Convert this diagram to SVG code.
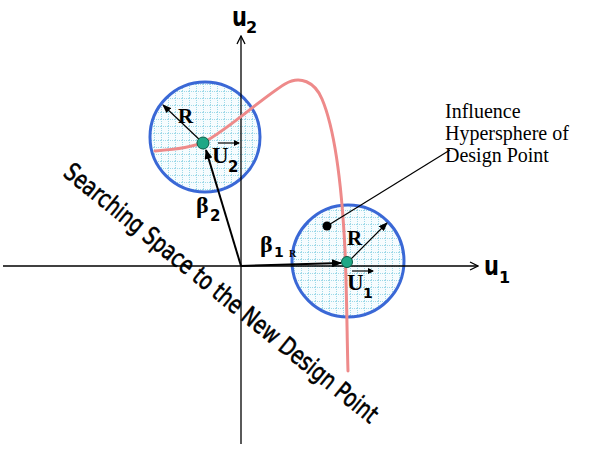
<svg xmlns="http://www.w3.org/2000/svg" width="589" height="453" viewBox="0 0 589 453">
<style>
.axis{stroke:#000;stroke-width:1.3;fill:none}
.vec{stroke:#000;stroke-width:2;fill:none}
.rad{stroke:#000;stroke-width:1.2;fill:none}
.sphere{fill:url(#grid);stroke:#3a68d6;stroke-width:3}
.curve{fill:none;stroke:#ee8a8a;stroke-width:3;stroke-linecap:round}
.dp{fill:#1fa886;stroke:#0b5a45;stroke-width:1}
.ser{font-family:"Liberation Serif","Times New Roman",serif;fill:#000}
.sb{font-family:"Liberation Serif","Times New Roman",serif;font-weight:bold;fill:#000}
.san{font-family:"DejaVu Sans","Liberation Sans",sans-serif;font-weight:bold;fill:#000}
</style>
<defs>
<pattern id="grid" patternUnits="userSpaceOnUse" width="7" height="7">
<rect width="7" height="7" fill="#f6fcfe"/>
<path d="M0,0.5H7M0.5,0V7" stroke="#9dd9e8" stroke-width="1" stroke-dasharray="1,1"/>
</pattern>
<marker id="ah" markerWidth="10" markerHeight="8" refX="9" refY="4" orient="auto" markerUnits="userSpaceOnUse">
<path d="M0,0L10,4L0,8z" fill="#000"/>
</marker>
<marker id="ahs" markerWidth="9" markerHeight="7" refX="8" refY="3.5" orient="auto" markerUnits="userSpaceOnUse">
<path d="M0,0L9,3.5L0,7z" fill="#000"/>
</marker>
<marker id="ax" markerWidth="10" markerHeight="10" refX="9" refY="5" orient="auto" markerUnits="userSpaceOnUse">
<path d="M1,1L9,5L1,9" fill="none" stroke="#000" stroke-width="1.3"/>
</marker>
<marker id="tiny" markerWidth="6" markerHeight="6" refX="5" refY="3" orient="auto" markerUnits="userSpaceOnUse">
<path d="M0,0L6,3L0,6z" fill="#000"/>
</marker>
</defs>

<g id="spheres">
<circle id="sphere2" class="sphere" cx="205" cy="137" r="55"/>
<circle id="sphere1" class="sphere" cx="348" cy="261" r="56"/>
</g>

<g id="axes">
<line class="axis" x1="241" y1="444" x2="241" y2="36" marker-end="url(#ax)"/>
<line class="axis" x1="3" y1="266" x2="478" y2="266" marker-end="url(#ax)"/>
</g>

<path id="limit-state" class="curve" d="M155,151 C180,149 193,147 204,142 C226,131 262,98 285,84 C300,75 315,82 322,99 C336,132 342,190 345,250 C347,300 347,340 348,371"/>

<g id="connectors">
<line class="vec" x1="241" y1="266" x2="206" y2="150" marker-end="url(#ah)"/>
<line class="vec" x1="241" y1="266" x2="341" y2="263" marker-end="url(#ah)"/>
<line class="rad" x1="203" y1="143" x2="163" y2="105" marker-end="url(#ahs)"/>
<line class="rad" x1="348" y1="262" x2="387" y2="223" marker-end="url(#ahs)"/>
<line class="rad" x1="327" y1="226" x2="450" y2="150"/>
</g>

<g id="point2">
<circle class="dp" cx="203" cy="143" r="6"/>
</g>
<g id="point1">
<circle class="dp" cx="347" cy="262" r="5.5"/>
</g>
<g id="center-dot">
<circle cx="327" cy="226" r="4.5" fill="#000"/>
</g>

<g id="labels">
<text class="san" transform="translate(232,26) scale(1,1.3)" font-size="21">u</text>
<text class="san" x="246" y="33" font-size="16">2</text>
<text class="san" transform="translate(484,275) scale(1,1.3)" font-size="21">u</text>
<text class="san" x="499" y="283" font-size="16">1</text>

<text class="sb" x="178" y="123" font-size="21">R</text>
<text class="sb" x="347" y="245" font-size="21">R</text>

<text class="sb" x="212" y="163" font-size="23">U</text>
<text class="san" x="228" y="172" font-size="15">2</text>
<line class="rad" x1="218" y1="143" x2="239" y2="143" marker-end="url(#tiny)"/>
<circle cx="236" cy="143" r="1.5" fill="#000"/>

<text class="sb" x="347" y="290" font-size="23">U</text>
<text class="san" x="363" y="298" font-size="14">1</text>
<line class="rad" x1="352" y1="271" x2="373" y2="271" marker-end="url(#tiny)"/>
<circle cx="370" cy="271" r="1.5" fill="#000"/>

<text class="sb" x="196" y="213" font-size="24">β</text>
<text class="san" x="210" y="221" font-size="15">2</text>
<text class="sb" x="260" y="252" font-size="24">β</text>
<text class="san" x="274" y="257" font-size="14">1</text>
<text class="sb" x="289" y="257" font-size="10">R</text>

<text class="ser" font-size="20" x="445" y="118">Influence</text>
<text class="ser" font-size="20" x="445" y="140">Hypersphere of</text>
<text class="ser" font-size="20" x="445" y="162">Design Point</text>

<text font-family="'DejaVu Sans','Liberation Sans',sans-serif" font-size="25" fill="#000" stroke="#000" stroke-width="0.6" transform="translate(62,175) rotate(39)" textLength="396" lengthAdjust="spacingAndGlyphs">Searching Space to the New Design Point</text>
</g>
</svg>
